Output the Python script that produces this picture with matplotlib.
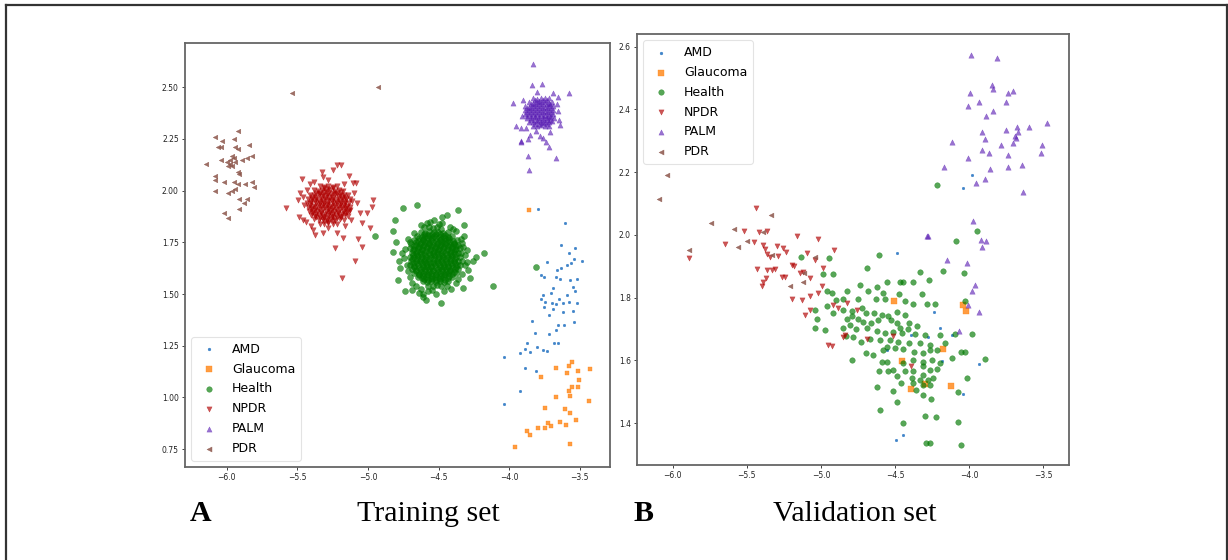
import matplotlib
matplotlib.use("Agg")
import matplotlib.pyplot as plt
from matplotlib.lines import Line2D

# ---------------- data ----------------
classes = ["AMD", "Glaucoma", "Health", "NPDR", "PALM", "PDR"]

# Training set
amd_train = [(-3.795,1.910),(-3.606,1.846),(-3.63,1.738),(-3.536,1.725),(-3.576,1.697),(-3.732,1.657),(-3.54,1.668),(-3.488,1.66),(-3.59,1.641),(-3.566,1.652),(-3.63,1.625),(-3.66,1.617),(-3.778,1.593),(-3.752,1.581),(-3.67,1.581),(-3.641,1.571),(-3.57,1.568),(-3.523,1.571),(-3.552,1.536),(-3.535,1.516),(-3.693,1.528),(-3.707,1.506),(-3.764,1.495),(-3.776,1.475),(-3.646,1.478),(-3.594,1.494),(-3.745,1.462),(-3.70,1.457),(-3.67,1.454),(-3.622,1.457),(-3.575,1.462),(-3.523,1.457),(-3.752,1.436),(-3.693,1.428),(-3.617,1.415),(-3.547,1.416),(-3.717,1.399),(-3.839,1.368),(-3.542,1.363),(-3.653,1.352),(-3.61,1.352),(-3.815,1.311),(-3.717,1.305),(-3.667,1.327),(-3.686,1.264),(-3.655,1.264),(-3.875,1.264),(-3.891,1.235),(-3.856,1.222),(-3.80,1.243),(-3.764,1.231),(-3.733,1.227),(-3.926,1.216),(-4.04,1.198),(-3.887,1.143),(-3.811,1.13),(-3.926,1.033),(-4.035,0.969)]

glaucoma_train = [(-3.861,1.907),(-3.668,1.143),(-3.58,1.154),(-3.557,1.170),(-3.593,1.117),(-3.51,1.13),(-3.427,1.138),(-3.774,1.098),(-3.505,1.084),(-3.514,1.049),(-3.557,1.049),(-3.58,1.03),(-3.573,1.009),(-3.669,1.001),(-3.434,0.985),(-3.744,0.949),(-3.602,0.946),(-3.573,0.925),(-3.528,0.891),(-3.644,0.881),(-3.724,0.878),(-3.703,0.861),(-3.744,0.854),(-3.795,0.852),(-3.597,0.867),(-3.877,0.836),(-3.856,0.819),(-3.573,0.776),(-3.96,0.760)]

health_train = [
 (-4.75,1.915),(-4.651,1.931),(-4.36,1.907),(-4.809,1.859),(-4.479,1.875),(-4.32,1.835),(-4.826,1.807),(-4.82,1.705),(-4.178,1.697),(-4.235,1.677),(-4.112,1.537),(-4.741,1.513),(-4.611,1.488),(-4.48,1.459),(-4.33,1.53),(-4.788,1.569),(-4.293,1.617),(-4.776,1.626),(-4.30,1.713),(-4.44,1.883),(-4.56,1.85),(-4.32,1.78),(-4.69,1.52),(-4.64,1.505),(-4.95,1.78),(-4.59,1.47),(-4.61,1.50),(-4.26,1.66),(-4.28,1.58),(-4.80,1.75),(-4.78,1.66),(-3.81,1.63),
 (-4.31,1.69),(-4.325,1.73),(-4.345,1.765),(-4.375,1.805),(-4.42,1.825),(-4.475,1.845),(-4.53,1.86),(-4.585,1.845),(-4.625,1.835),(-4.675,1.795),(-4.715,1.765),(-4.735,1.72),(-4.745,1.675),(-4.725,1.64),(-4.705,1.585),(-4.685,1.555),(-4.625,1.525),(-4.575,1.515),(-4.52,1.5),(-4.465,1.515),(-4.415,1.525),(-4.375,1.555),(-4.335,1.595),(-4.315,1.64),
 (-4.30,1.655),(-4.335,1.745),(-4.40,1.815),(-4.50,1.84),(-4.605,1.825),(-4.70,1.75),(-4.76,1.70),(-4.72,1.61),(-4.66,1.54),(-4.55,1.52),(-4.44,1.54),(-4.36,1.575),
 (-4.57,1.822),(-4.543,1.818),(-4.512,1.824),(-4.482,1.817),
 (-4.625,1.801),(-4.594,1.797),(-4.566,1.803),(-4.535,1.799),(-4.503,1.802),(-4.468,1.796),(-4.437,1.800),
 (-4.652,1.781),(-4.621,1.778),(-4.593,1.783),(-4.562,1.779),(-4.531,1.782),(-4.497,1.777),(-4.466,1.781),(-4.437,1.778),(-4.404,1.782),
 (-4.672,1.761),(-4.643,1.758),(-4.611,1.762),(-4.583,1.757),(-4.551,1.761),(-4.522,1.759),(-4.49,1.762),(-4.462,1.758),(-4.43,1.761),(-4.401,1.757),(-4.372,1.762),
 (-4.693,1.741),(-4.662,1.738),(-4.633,1.742),(-4.602,1.739),(-4.571,1.741),(-4.541,1.737),(-4.512,1.742),(-4.481,1.739),(-4.452,1.741),(-4.42,1.738),(-4.391,1.742),(-4.361,1.739),
 (-4.703,1.721),(-4.676,1.718),(-4.645,1.722),(-4.617,1.719),(-4.585,1.721),(-4.556,1.717),(-4.526,1.722),(-4.495,1.719),(-4.467,1.721),(-4.436,1.718),(-4.406,1.722),(-4.377,1.719),(-4.349,1.721),
 (-4.69,1.701),(-4.661,1.698),(-4.632,1.702),(-4.6,1.699),(-4.571,1.701),(-4.541,1.697),(-4.511,1.702),(-4.48,1.699),(-4.452,1.701),(-4.421,1.698),(-4.392,1.702),(-4.362,1.699),(-4.338,1.701),
 (-4.705,1.681),(-4.676,1.678),(-4.646,1.682),(-4.617,1.679),(-4.587,1.681),(-4.556,1.677),(-4.527,1.682),(-4.497,1.679),(-4.466,1.681),(-4.437,1.678),(-4.407,1.682),(-4.376,1.679),(-4.347,1.681),
 (-4.692,1.661),(-4.662,1.658),(-4.631,1.662),(-4.602,1.659),(-4.572,1.661),(-4.541,1.657),(-4.512,1.662),(-4.482,1.659),(-4.451,1.661),(-4.422,1.658),(-4.391,1.662),(-4.362,1.659),(-4.336,1.661),
 (-4.702,1.641),(-4.673,1.638),(-4.643,1.642),(-4.613,1.639),(-4.583,1.641),(-4.553,1.637),(-4.523,1.642),(-4.493,1.639),(-4.463,1.641),(-4.433,1.638),(-4.403,1.642),(-4.373,1.639),(-4.347,1.641),
 (-4.687,1.621),(-4.657,1.618),(-4.627,1.622),(-4.597,1.619),(-4.567,1.621),(-4.537,1.617),(-4.507,1.622),(-4.477,1.619),(-4.447,1.621),(-4.417,1.618),(-4.387,1.622),(-4.36,1.619),
 (-4.672,1.601),(-4.642,1.598),(-4.612,1.602),(-4.582,1.599),(-4.552,1.601),(-4.522,1.597),(-4.492,1.602),(-4.462,1.599),(-4.432,1.601),(-4.402,1.598),(-4.374,1.602),
 (-4.647,1.581),(-4.617,1.578),(-4.587,1.582),(-4.557,1.579),(-4.527,1.581),(-4.497,1.577),(-4.467,1.582),(-4.437,1.579),(-4.407,1.581),
 (-4.612,1.561),(-4.582,1.558),(-4.552,1.562),(-4.522,1.559),(-4.492,1.561),(-4.462,1.557),(-4.432,1.562),
 (-4.572,1.541),(-4.542,1.538),(-4.512,1.542),(-4.482,1.539)]

# the very dense inner part of the Health cloud (overlapping points)
health_train_inner = [
 (-4.605,1.791),(-4.577,1.788),(-4.548,1.792),(-4.518,1.789),(-4.488,1.791),(-4.458,1.788),
 (-4.637,1.771),(-4.607,1.768),(-4.578,1.772),(-4.547,1.769),(-4.517,1.771),(-4.486,1.768),(-4.456,1.772),(-4.426,1.769),
 (-4.657,1.751),(-4.628,1.748),(-4.597,1.752),(-4.567,1.749),(-4.537,1.751),(-4.506,1.748),(-4.476,1.752),(-4.446,1.749),(-4.416,1.751),(-4.392,1.748),
 (-4.672,1.731),(-4.642,1.728),(-4.612,1.732),(-4.582,1.729),(-4.552,1.731),(-4.522,1.728),(-4.492,1.732),(-4.462,1.729),(-4.432,1.731),(-4.402,1.728),(-4.378,1.732),
 (-4.681,1.711),(-4.651,1.708),(-4.621,1.712),(-4.591,1.709),(-4.561,1.711),(-4.531,1.708),(-4.501,1.712),(-4.471,1.709),(-4.441,1.711),(-4.411,1.708),(-4.381,1.712),
 (-4.684,1.691),(-4.654,1.688),(-4.624,1.692),(-4.594,1.689),(-4.564,1.691),(-4.534,1.688),(-4.504,1.692),(-4.474,1.689),(-4.444,1.691),(-4.414,1.688),(-4.384,1.692),
 (-4.685,1.671),(-4.655,1.668),(-4.625,1.672),(-4.595,1.669),(-4.565,1.671),(-4.535,1.668),(-4.505,1.672),(-4.475,1.669),(-4.445,1.671),(-4.415,1.668),(-4.385,1.672),
 (-4.681,1.651),(-4.651,1.648),(-4.621,1.652),(-4.591,1.649),(-4.561,1.651),(-4.531,1.648),(-4.501,1.652),(-4.471,1.649),(-4.441,1.651),(-4.411,1.648),(-4.381,1.652),
 (-4.672,1.631),(-4.642,1.628),(-4.612,1.632),(-4.582,1.629),(-4.552,1.631),(-4.522,1.628),(-4.492,1.632),(-4.462,1.629),(-4.432,1.631),(-4.402,1.628),(-4.378,1.632),
 (-4.657,1.611),(-4.628,1.608),(-4.597,1.612),(-4.567,1.609),(-4.537,1.611),(-4.506,1.608),(-4.476,1.612),(-4.446,1.609),(-4.416,1.611),(-4.392,1.608),
 (-4.637,1.591),(-4.607,1.588),(-4.578,1.592),(-4.547,1.589),(-4.517,1.591),(-4.486,1.588),(-4.456,1.592),(-4.426,1.589),
 (-4.605,1.571),(-4.577,1.568),(-4.548,1.572),(-4.518,1.569),(-4.488,1.571),(-4.458,1.568)]

npdr_train = [
 (-5.58,1.915),(-5.469,2.055),(-5.328,2.092),(-5.222,2.124),(-5.194,2.124),(-5.246,2.10),(-5.132,2.071),(-5.104,2.036),(-5.085,2.036),(-4.967,1.955),(-4.974,1.923),(-5.057,1.891),(-5.01,1.891),(-5.08,1.94),(-5.039,1.842),(-4.987,1.818),(-5.069,1.765),(-5.045,1.73),(-5.234,1.722),(-5.092,1.658),(-5.187,1.578),(-5.497,1.955),(-5.49,1.875),(-5.458,1.858),(-5.387,1.81),(-5.375,1.786),(-5.316,1.794),(-5.222,1.794),(-5.175,1.77),(-5.128,1.907),(-5.316,2.068),(-5.434,2.003),(-5.41,2.03),(-5.48,1.987),
 (-5.45,1.93),(-5.11,1.95),(-5.12,1.86),(-5.44,1.85),(-5.38,2.04),(-5.17,2.03),(-5.28,1.82),(-5.28,2.05),(-5.46,1.97),(-5.1,1.99),(-5.16,1.83),(-5.4,1.83),
 (-5.34,2.021),(-5.31,2.018),(-5.28,2.022),(-5.25,2.019),(-5.22,2.021),
 (-5.385,2.001),(-5.357,1.998),(-5.327,2.002),(-5.297,1.999),(-5.267,2.001),(-5.237,1.997),(-5.207,2.002),(-5.177,1.999),
 (-5.41,1.981),(-5.38,1.978),(-5.35,1.982),(-5.32,1.979),(-5.29,1.981),(-5.26,1.977),(-5.23,1.982),(-5.2,1.979),(-5.17,1.981),(-5.145,1.978),
 (-5.425,1.961),(-5.395,1.958),(-5.365,1.962),(-5.335,1.959),(-5.305,1.961),(-5.275,1.957),(-5.245,1.962),(-5.215,1.959),(-5.185,1.961),(-5.155,1.958),(-5.13,1.962),
 (-5.43,1.941),(-5.4,1.938),(-5.37,1.942),(-5.34,1.939),(-5.31,1.941),(-5.28,1.937),(-5.25,1.942),(-5.22,1.939),(-5.19,1.941),(-5.16,1.938),(-5.135,1.942),
 (-5.425,1.921),(-5.395,1.918),(-5.365,1.922),(-5.335,1.919),(-5.305,1.921),(-5.275,1.917),(-5.245,1.922),(-5.215,1.919),(-5.185,1.921),(-5.155,1.918),(-5.13,1.922),
 (-5.42,1.901),(-5.39,1.898),(-5.36,1.902),(-5.33,1.899),(-5.3,1.901),(-5.27,1.897),(-5.24,1.902),(-5.21,1.899),(-5.18,1.901),(-5.15,1.898),(-5.135,1.902),
 (-5.405,1.881),(-5.375,1.878),(-5.345,1.882),(-5.315,1.879),(-5.285,1.881),(-5.255,1.877),(-5.225,1.882),(-5.195,1.879),(-5.165,1.881),(-5.145,1.878),
 (-5.38,1.861),(-5.35,1.858),(-5.32,1.862),(-5.29,1.859),(-5.26,1.861),(-5.23,1.857),(-5.2,1.862),(-5.17,1.859),
 (-5.34,1.841),(-5.31,1.838),(-5.28,1.842),(-5.25,1.839),(-5.22,1.841)]

npdr_train_inner = [
 (-5.31,2.011),(-5.28,2.008),(-5.25,2.012),
 (-5.37,1.991),(-5.34,1.988),(-5.31,1.992),(-5.28,1.989),(-5.25,1.991),(-5.22,1.988),(-5.19,1.992),
 (-5.395,1.971),(-5.365,1.968),(-5.335,1.972),(-5.305,1.969),(-5.275,1.971),(-5.245,1.968),(-5.215,1.972),(-5.185,1.969),(-5.165,1.971),
 (-5.405,1.951),(-5.375,1.948),(-5.345,1.952),(-5.315,1.949),(-5.285,1.951),(-5.255,1.948),(-5.225,1.952),(-5.195,1.949),(-5.165,1.951),
 (-5.41,1.931),(-5.38,1.928),(-5.35,1.932),(-5.32,1.929),(-5.29,1.931),(-5.26,1.928),(-5.23,1.932),(-5.2,1.929),(-5.17,1.931),(-5.15,1.928),
 (-5.405,1.911),(-5.375,1.908),(-5.345,1.912),(-5.315,1.909),(-5.285,1.911),(-5.255,1.908),(-5.225,1.912),(-5.195,1.909),(-5.165,1.911),
 (-5.395,1.891),(-5.365,1.888),(-5.335,1.892),(-5.305,1.889),(-5.275,1.891),(-5.245,1.888),(-5.215,1.892),(-5.185,1.889),(-5.165,1.891),
 (-5.37,1.871),(-5.34,1.868),(-5.31,1.872),(-5.28,1.869),(-5.25,1.871),(-5.22,1.868),(-5.19,1.872),
 (-5.31,1.851),(-5.28,1.848),(-5.25,1.852)]

palm_train = [
 (-3.834,2.613),(-3.766,2.516),(-3.58,2.474),(-3.971,2.423),(-3.653,2.455),(-3.952,2.313),(-3.916,2.301),(-3.88,2.301),(-3.64,2.318),(-3.711,2.285),(-3.918,2.241),(-3.864,2.248),(-3.758,2.257),(-3.739,2.237),(-3.722,2.213),(-3.87,2.167),(-3.668,2.156),(-3.84,2.511),(-3.653,2.383),(-3.66,2.42),(-3.853,2.27),(-3.78,2.264),(-3.858,2.10),(-3.92,2.237),(-3.905,2.44),(-3.80,2.475),(-3.69,2.47),(-3.65,2.34),(-3.91,2.36),(-3.81,2.29),
 (-3.835,2.448),(-3.806,2.445),(-3.778,2.449),(-3.75,2.446),(-3.722,2.448),
 (-3.862,2.429),(-3.834,2.426),(-3.806,2.43),(-3.778,2.427),(-3.75,2.429),(-3.722,2.425),(-3.694,2.43),
 (-3.885,2.41),(-3.857,2.407),(-3.829,2.411),(-3.801,2.408),(-3.773,2.41),(-3.745,2.406),(-3.717,2.411),(-3.689,2.408),
 (-3.886,2.391),(-3.858,2.388),(-3.83,2.392),(-3.802,2.389),(-3.774,2.391),(-3.746,2.387),(-3.718,2.392),(-3.69,2.389),
 (-3.885,2.372),(-3.857,2.369),(-3.829,2.373),(-3.801,2.37),(-3.773,2.372),(-3.745,2.368),(-3.717,2.373),(-3.689,2.37),
 (-3.876,2.353),(-3.848,2.35),(-3.82,2.354),(-3.792,2.351),(-3.764,2.353),(-3.736,2.349),(-3.708,2.354),(-3.68,2.351),
 (-3.862,2.334),(-3.834,2.331),(-3.806,2.335),(-3.778,2.332),(-3.75,2.334),(-3.722,2.33),(-3.694,2.335),
 (-3.835,2.315),(-3.806,2.312),(-3.778,2.316),(-3.75,2.313),(-3.722,2.315)]

palm_train_inner = [
 (-3.82,2.438),(-3.792,2.436),(-3.764,2.439),(-3.736,2.437),
 (-3.848,2.419),(-3.82,2.417),(-3.792,2.42),(-3.764,2.418),(-3.736,2.419),(-3.708,2.417),
 (-3.871,2.4),(-3.843,2.398),(-3.815,2.401),(-3.787,2.399),(-3.759,2.4),(-3.731,2.398),(-3.703,2.401),
 (-3.873,2.381),(-3.845,2.379),(-3.817,2.382),(-3.789,2.38),(-3.761,2.381),(-3.733,2.379),(-3.705,2.382),
 (-3.871,2.362),(-3.843,2.36),(-3.815,2.363),(-3.787,2.361),(-3.759,2.362),(-3.731,2.36),(-3.703,2.363),
 (-3.848,2.343),(-3.82,2.341),(-3.792,2.344),(-3.764,2.342),(-3.736,2.343),(-3.708,2.341),
 (-3.82,2.324),(-3.792,2.322),(-3.764,2.325),(-3.736,2.323)]

pdr_train = [(-5.92,2.29),(-6.08,2.26),(-6.03,2.24),(-5.95,2.25),(-6.06,2.21),(-6.04,2.21),(-5.94,2.21),(-5.92,2.20),(-5.84,2.22),(-5.82,2.17),(-5.96,2.17),(-6.04,2.15),(-5.95,2.16),(-5.98,2.13),(-6.15,2.13),(-5.99,2.12),(-5.94,2.14),(-5.89,2.15),(-5.86,2.16),(-5.96,2.12),(-5.92,2.09),(-5.91,2.08),(-6.08,2.07),(-6.08,2.05),(-6.02,2.04),(-5.95,2.04),(-5.92,2.03),(-5.87,2.03),(-5.82,2.04),(-5.81,2.02),(-6.08,2.00),(-5.99,1.99),(-5.96,2.00),(-5.94,2.01),(-5.91,1.96),(-5.86,1.96),(-5.88,1.94),(-6.02,1.89),(-5.99,1.87),(-5.91,1.91),(-5.98,2.15),(-6.00,2.14),(-5.54,2.47),(-4.93,2.50)]

# Validation set
amd_val = [(-3.984,2.191),(-4.04,2.149),(-4.49,1.944),(-4.238,1.753),(-4.197,1.705),(-4.395,1.681),(-4.119,1.681),(-4.276,1.676),(-4.186,1.599),(-4.557,1.634),(-3.932,1.589),(-4.045,1.492),(-4.445,1.363),(-4.494,1.347)]

glaucoma_val = [(-4.508,1.788),(-4.04,1.777),(-4.022,1.759),(-4.175,1.636),(-4.456,1.597),(-4.123,1.519),(-4.298,1.524),(-4.393,1.508)]

health_val = [(-4.22,2.159),(-3.946,2.013),(-4.09,1.982),(-4.606,1.936),(-4.944,1.926),(-5.137,1.929),(-4.687,1.895),(-4.332,1.881),(-4.175,1.886),(-4.034,1.880),(-4.984,1.874),(-4.917,1.874),(-4.557,1.851),(-4.467,1.85),(-4.445,1.849),(-4.378,1.849),(-4.269,1.855),(-4.737,1.841),(-4.625,1.835),(-4.962,1.822),(-4.928,1.814),(-4.827,1.822),(-4.684,1.820),(-4.58,1.814),(-4.472,1.812),(-4.433,1.790),(-4.32,1.811),(-4.9,1.793),(-4.849,1.795),(-4.753,1.795),(-4.629,1.795),(-4.568,1.795),(-4.382,1.780),(-4.288,1.780),(-4.234,1.780),(-4.029,1.791),(-5.04,1.761),(-4.962,1.774),(-4.917,1.750),(-4.849,1.761),(-4.793,1.759),(-4.726,1.766),(-4.696,1.750),(-4.64,1.750),(-4.591,1.745),(-4.55,1.742),(-4.49,1.753),(-4.434,1.745),(-4.827,1.731),(-4.789,1.742),(-4.75,1.731),(-4.714,1.724),(-4.665,1.719),(-4.613,1.729),(-4.53,1.729),(-4.49,1.719),(-4.467,1.703),(-4.404,1.721),(-4.35,1.710),(-5.04,1.703),(-5.029,1.731),(-4.973,1.697),(-4.849,1.703),(-4.802,1.713),(-4.764,1.701),(-4.692,1.703),(-4.625,1.694),(-4.568,1.689),(-4.512,1.692),(-4.456,1.687),(-4.411,1.700),(-4.366,1.684),(-4.298,1.681),(-4.197,1.681),(-4.096,1.684),(-3.984,1.684),(-4.831,1.678),(-4.786,1.676),(-4.732,1.660),(-4.669,1.670),(-4.602,1.665),(-4.535,1.665),(-4.478,1.660),(-4.404,1.657),(-4.332,1.655),(-4.265,1.650),(-4.164,1.655),(-4.557,1.644),(-4.501,1.639),(-4.58,1.634),(-4.445,1.636),(-4.371,1.628),(-4.315,1.625),(-4.265,1.634),(-4.22,1.634),(-4.058,1.628),(-4.029,1.628),(-4.696,1.623),(-4.647,1.618),(-4.791,1.602),(-4.586,1.594),(-4.557,1.594),(-4.449,1.591),(-4.378,1.602),(-4.315,1.596),(-4.254,1.602),(-4.197,1.591),(-4.119,1.607),(-3.894,1.604),(-4.606,1.565),(-4.546,1.565),(-4.512,1.570),(-4.434,1.568),(-4.378,1.568),(-4.31,1.583),(-4.31,1.554),(-4.265,1.570),(-4.22,1.572),(-4.49,1.551),(-4.389,1.543),(-4.332,1.538),(-4.276,1.538),(-4.247,1.543),(-4.018,1.543),(-4.463,1.527),(-4.382,1.527),(-4.315,1.522),(-4.265,1.522),(-4.62,1.517),(-4.512,1.503),(-4.36,1.506),(-4.315,1.490),(-4.259,1.477),(-4.078,1.501),(-4.49,1.467),(-4.602,1.443),(-4.297,1.424),(-4.224,1.419),(-4.078,1.405),(-4.445,1.400),(-4.292,1.336),(-4.265,1.338),(-4.056,1.331)]

npdr_val = [(-5.438,2.085),(-5.888,1.928),(-5.647,1.970),(-5.519,2.011),(-5.416,2.008),(-5.366,2.011),(-5.452,1.979),(-5.389,1.968),(-5.378,1.954),(-5.366,1.940),(-5.344,1.931),(-5.288,1.934),(-5.299,1.965),(-5.254,1.958),(-5.236,1.945),(-5.164,1.998),(-5.198,1.905),(-5.182,1.902),(-5.018,1.987),(-4.912,1.952),(-5.092,1.944),(-5.04,1.920),(-5.434,1.891),(-5.366,1.889),(-5.310,1.891),(-5.328,1.889),(-5.265,1.867),(-5.371,1.862),(-5.400,1.838),(-5.389,1.851),(-5.243,1.867),(-5.141,1.880),(-5.119,1.883),(-5.074,1.862),(-4.989,1.894),(-4.995,1.838),(-5.018,1.814),(-5.074,1.804),(-5.13,1.793),(-5.198,1.795),(-5.074,1.761),(-5.108,1.745),(-4.95,1.650),(-4.928,1.646),(-4.849,1.676),(-4.838,1.681),(-4.883,1.766),(-4.917,1.777),(-4.759,1.761),(-4.692,1.670),(-4.517,1.678),(-4.395,1.583),(-4.827,1.782)]

palm_val = [(-3.991,2.573),(-3.815,2.563),(-3.849,2.478),(-3.842,2.464),(-3.995,2.451),(-3.741,2.453),(-3.703,2.46),(-3.932,2.422),(-3.752,2.422),(-4.006,2.411),(-3.887,2.379),(-3.838,2.395),(-3.68,2.343),(-3.595,2.343),(-3.474,2.358),(-3.916,2.327),(-3.752,2.335),(-3.674,2.329),(-3.894,2.306),(-3.692,2.315),(-3.685,2.308),(-4.119,2.295),(-3.788,2.285),(-3.707,2.292),(-3.507,2.287),(-3.916,2.271),(-3.865,2.262),(-3.737,2.255),(-3.519,2.26),(-4.006,2.244),(-4.173,2.216),(-3.861,2.21),(-3.737,2.216),(-3.647,2.223),(-3.957,2.165),(-3.894,2.178),(-3.636,2.136),(-3.977,2.046),(-4.287,1.998),(-4.276,1.998),(-3.923,1.984),(-3.887,1.981),(-3.916,1.961),(-4.148,1.92),(-4.018,1.91),(-3.962,1.841),(-3.984,1.822),(-4.011,1.777),(-3.932,1.754),(-4.067,1.694)]

pdr_val = [(-6.04,2.191),(-6.09,2.115),(-5.741,2.037),(-5.586,2.019),(-5.888,1.952),(-5.501,1.982),(-5.557,1.961),(-5.339,2.064),(-5.389,2.009),(-5.332,1.936),(-5.209,1.838),(-5.04,1.931),(-5.115,1.880),(-5.119,1.851)]

train_xticks = [-6.0, -5.5, -5.0, -4.5, -4.0, -3.5]
train_yticks = [0.75, 1.00, 1.25, 1.50, 1.75, 2.00, 2.25, 2.50]
val_xticks = [-6.0, -5.5, -5.0, -4.5, -4.0, -3.5]
val_yticks = [1.4, 1.6, 1.8, 2.0, 2.2, 2.4, 2.6]

# ---------------- styling ----------------
styles = {
    "AMD":      dict(marker="o", color="#1f6fc0", alpha=0.85),
    "Glaucoma": dict(marker="s", color="#ff8412", alpha=0.8),
    "Health":   dict(marker="o", color="#007800", alpha=0.66),
    "NPDR":     dict(marker="v", color="#b00000", alpha=0.66),
    "PALM":     dict(marker="^", color="#5a1eb4", alpha=0.62),
    "PDR":      dict(marker="<", color="#8c564b", alpha=0.85),
}
sizes_train = {"AMD": 3.5, "Glaucoma": 12, "Health": 19, "NPDR": 15, "PALM": 14, "PDR": 11}
sizes_val = {"AMD": 3.5, "Glaucoma": 13, "Health": 16, "NPDR": 14, "PALM": 15, "PDR": 12}
legend_sizes = {"AMD": 4, "Glaucoma": 14, "Health": 16, "NPDR": 14, "PALM": 14, "PDR": 13}

fig = plt.figure(figsize=(12.28, 5.6), dpi=100)

ax1 = fig.add_axes([0.1507, 0.1661, 0.3460, 0.7571])
ax2 = fig.add_axes([0.5187, 0.1696, 0.3518, 0.7696])

def draw(ax, series, sizes, xlim, ylim, xt, yt, loc):
    for name, pts in zip(classes, series):
        st = styles[name]
        xs = [p[0] for p in pts]
        ys = [p[1] for p in pts]
        ax.scatter(xs, ys, marker=st["marker"], c=st["color"], alpha=st["alpha"],
                   s=sizes[name], linewidths=0.3, edgecolors=st["color"], label=name)
    ax.set_xlim(*xlim)
    ax.set_ylim(*ylim)
    ax.set_xticks(xt)
    ax.set_yticks(yt)
    ax.tick_params(labelsize=5.5, length=2.5, width=0.6, pad=2, colors="#222222")
    for sp in ax.spines.values():
        sp.set_color("#666666")
        sp.set_linewidth(1.3)
    leg = ax.legend(loc=loc, fontsize=9, frameon=True, handletextpad=0.8,
                    labelspacing=0.55, borderpad=0.45)
    for name, h in zip(classes, leg.legend_handles):
        h.set_sizes([legend_sizes[name]])
    leg.get_frame().set_edgecolor("#dddddd")
    leg.get_frame().set_linewidth(0.8)

draw(ax1, [amd_train, glaucoma_train, health_train + health_train_inner,
           npdr_train + npdr_train_inner, palm_train + palm_train_inner, pdr_train], sizes_train,
     (-6.295, -3.287), (0.664, 2.714), train_xticks, train_yticks, "lower left")
ax1.yaxis.set_major_formatter(matplotlib.ticker.FormatStrFormatter("%.2f"))
draw(ax2, [amd_val, glaucoma_val, health_val, npdr_val, palm_val, pdr_val], sizes_val,
     (-6.24, -3.328), (1.267, 2.640), val_xticks, val_yticks, "upper left")

# panel captions
serif = ["Liberation Serif", "DejaVu Serif"]
fig.text(190/1228, 1-521/560, "A", fontsize=21.5, fontweight="bold", family=serif, ha="left", va="baseline")
fig.text(428/1228, 1-521/560, "Training set", fontsize=21.5, family=serif, ha="center", va="baseline")
fig.text(634/1228, 1-521/560, "B", fontsize=21.5, fontweight="bold", family=serif, ha="left", va="baseline")
fig.text(855/1228, 1-521/560, "Validation set", fontsize=21.5, family=serif, ha="center", va="baseline")

# outer frame
fx0, fx1, fy1 = 5.5/1228, 1226.5/1228, 1-5/560
for xs, ys in [([fx0, fx0], [0, fy1]), ([fx0, fx1], [fy1, fy1]), ([fx1, fx1], [fy1, 0])]:
    fig.add_artist(Line2D(xs, ys, transform=fig.transFigure, color="#333333", linewidth=1.6))

fig.savefig("out.png", dpi=100)
